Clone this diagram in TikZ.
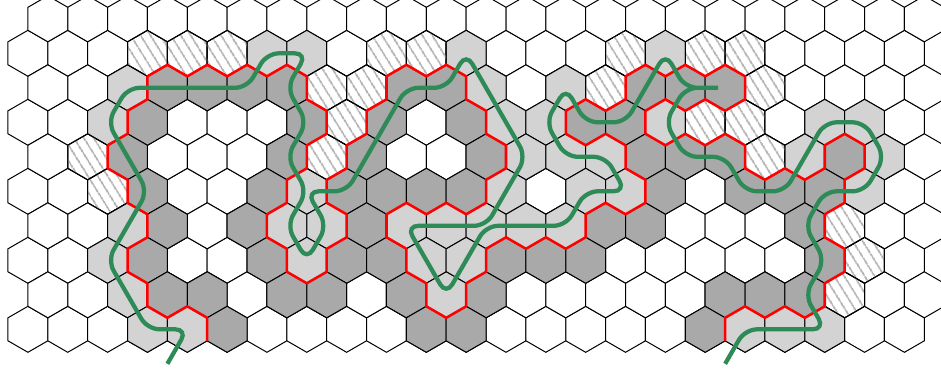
\documentclass[tikz,border=0pt]{standalone}
\usetikzlibrary{patterns.meta}
\definecolor{routegreen}{HTML}{2E8B57}
\definecolor{celllight}{HTML}{D3D3D3}
\definecolor{celldark}{HTML}{A9A9A9}

\tikzset{
  hexwhite/.style={draw=black,line width=0.75pt,fill=white},
  hexlight/.style={draw=black,line width=0.75pt,fill=celllight},
  hexdark/.style={draw=black,line width=0.75pt,fill=celldark},
  hexhatch/.style={draw=black,line width=0.75pt,pattern={Lines[angle=-58,distance=6.4pt,line width=1.35pt]},pattern color=celldark},
  border/.style={draw=red,line width=1.9pt,line join=round},
  route/.style={draw=routegreen,line width=3.2pt,rounded corners=9pt}
}
\newcommand{\hexcell}[3]{\path[#1] (#2,#3+2) -- (#2+1,#3+1) -- (#2+1,#3-1) -- (#2,#3-2) -- (#2-1,#3-1) -- (#2-1,#3+1) -- cycle;}

\begin{document}
\begin{tikzpicture}[x=14.94pt,y=8.625pt]
\path[use as bounding box,clip] (-0.4016,-1.713) rectangle (46.837,30.635);

% Plain grid
\foreach \v in {2,8,14,20,26} {
  \foreach \a in {1,3,...,45} {\hexcell{hexwhite}{\a}{\v}}
}
\foreach \v in {5,11,17,23,29} {
  \foreach \a in {2,4,...,46} {\hexcell{hexwhite}{\a}{\v}}
}

% Light cells
\foreach \a/\v in {13/26,15/26,23/26,33/26,6/23,24/23,28/23,5/20,25/20,27/20,33/20,41/20,43/20,
    26/17,28/17,30/17,40/17,44/17,15/14,25/14,29/14,31/14,43/14,
    6/11,14/11,16/11,20/11,22/11,24/11,26/11,28/11,5/8,15/8,21/8,23/8,6/5,22/5,7/2,9/2,37/2,39/2,41/2} {
  \hexcell{hexlight}{\a}{\v}
}

% Dark cells
\foreach \a/\v in {8/23,10/23,12/23,14/23,20/23,22/23,32/23,34/23,36/23,7/20,15/20,19/20,23/20,29/20,31/20,
    6/17,14/17,18/17,24/17,32/17,34/17,36/17,42/17,7/14,13/14,17/14,19/14,21/14,23/14,33/14,37/14,39/14,41/14,
    8/11,12/11,18/11,30/11,32/11,40/11,7/8,13/8,17/8,19/8,25/8,27/8,29/8,41/8,
    8/5,10/5,14/5,16/5,20/5,24/5,36/5,38/5,40/5,11/2,21/2,23/2,35/2} {
  \hexcell{hexdark}{\a}{\v}
}

% Hatched cells
\foreach \a/\v in {7/26,9/26,11/26,19/26,21/26,31/26,35/26,37/26,16/23,18/23,30/23,38/23,
    17/20,35/20,37/20,4/17,16/17,38/17,5/14,42/11,43/8,42/5} {
  \hexcell{hexhatch}{\a}{\v}
}

% Red boundary
\draw[border] (10,1) -- (10,3) -- (9,4) -- (8,3) -- (7,4) -- (7,6) -- (6,7) -- (6,9) -- (7,10) -- (7,12)
  -- (6,13) -- (6,15) -- (5,16) -- (5,18) -- (6,19) -- (6,21) -- (7,22) -- (7,24) -- (8,25) -- (9,24)
  -- (10,25) -- (11,24) -- (12,25) -- (13,24) -- (14,25) -- (15,24) -- (15,22) -- (16,21) -- (16,19)
  -- (15,18) -- (15,16) -- (14,15) -- (14,13) -- (13,12) -- (13,10) -- (14,9) -- (14,7) -- (15,6)
  -- (16,7) -- (16,9) -- (17,10) -- (17,12) -- (16,13) -- (16,15) -- (17,16) -- (17,18) -- (18,19)
  -- (18,21) -- (19,22) -- (19,24) -- (20,25) -- (21,24) -- (22,25) -- (23,24) -- (23,22) -- (24,21)
  -- (24,19) -- (25,18) -- (25,16) -- (24,15) -- (24,13) -- (23,12) -- (22,13) -- (21,12) -- (20,13)
  -- (19,12) -- (19,10) -- (20,9) -- (20,7) -- (21,6) -- (21,4) -- (22,3) -- (23,4) -- (23,6) -- (24,7)
  -- (24,9) -- (25,10) -- (26,9) -- (27,10) -- (28,9) -- (29,10) -- (29,12) -- (30,13) -- (31,12)
  -- (32,13) -- (32,15) -- (31,16) -- (31,18) -- (30,19) -- (29,18) -- (28,19) -- (28,21) -- (29,22)
  -- (30,21) -- (31,22) -- (31,24) -- (32,25) -- (33,24) -- (34,25) -- (35,24) -- (36,25) -- (37,24)
  -- (37,22) -- (36,21) -- (35,22) -- (34,21) -- (33,22) -- (32,21) -- (32,19) -- (33,18) -- (34,19)
  -- (35,18) -- (36,19) -- (37,18) -- (37,16) -- (38,15) -- (39,16) -- (40,15) -- (41,16) -- (41,18)
  -- (42,19) -- (43,18) -- (43,16) -- (42,15) -- (42,13) -- (41,12) -- (41,10) -- (42,9) -- (42,7)
  -- (41,6) -- (41,4) -- (40,3) -- (39,4) -- (38,3) -- (37,4) -- (36,3) -- (36,1);

% Green route
\draw[route] (8,-1) -- (9,2) -- (7,2) -- (6,5) -- (5,8) -- (6,11) -- (7,14) -- (6,17) -- (5,20) -- (6,23)
  -- (12,23) -- (13,26) -- (15,26) -- (14,23) -- (15,20) -- (14,17) -- (15,14) -- (14,11) -- (15,8)
  -- (16,11) -- (15,14) -- (17,14) -- (18,17) -- (19,20) -- (20,23) -- (22,23) -- (23,26) -- (24,23)
  -- (25,20) -- (26,17) -- (25,14) -- (24,11) -- (20,11) -- (21,8) -- (22,5) -- (23,8) -- (24,11)
  -- (28,11) -- (29,14) -- (31,14) -- (30,17) -- (28,17) -- (27,20) -- (28,23) -- (29,20) -- (31,20)
  -- (32,23) -- (33,26) -- (34,23) -- (36,23) -- (34,23) -- (33,20) -- (34,17) -- (36,17) -- (37,14)
  -- (39,14) -- (40,17) -- (41,20) -- (43,20) -- (44,17) -- (43,14) -- (41,14) -- (40,11) -- (41,8)
  -- (40,5) -- (41,2) -- (37,2) -- (36,-1);
\end{tikzpicture}
\end{document}
